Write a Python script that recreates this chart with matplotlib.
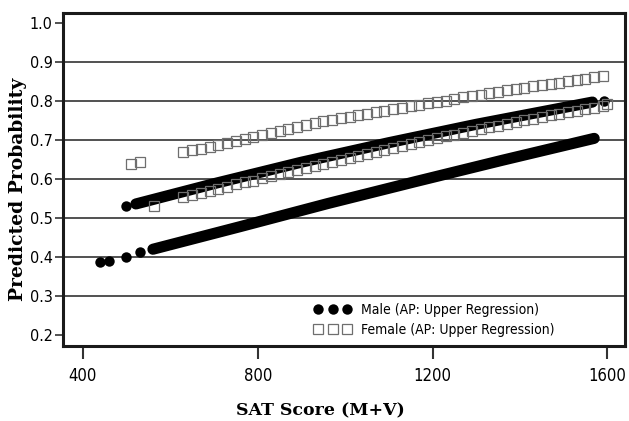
import matplotlib
matplotlib.use("Agg")
import matplotlib.pyplot as plt
from matplotlib import font_manager

# ---------------------------------------------------------------
# data
# ---------------------------------------------------------------
male_lower_dots_x = [439, 460, 498, 530]
male_lower_dots_y = [0.387, 0.390, 0.400, 0.412]
male_lower_x = [560, 760, 960, 1160, 1360, 1570]
male_lower_y = [0.420, 0.478, 0.537, 0.593, 0.648, 0.704]

male_upper_dots_x = [498, 1593]
male_upper_dots_y = [0.531, 0.800]
male_upper_x = [521, 700, 900, 1100, 1300, 1566]
male_upper_y = [0.536, 0.588, 0.643, 0.693, 0.740, 0.797]

female_x = [630, 650, 670, 690, 710, 730, 750, 770, 790, 810, 830, 850, 870, 890,
            910, 930, 950, 970, 990, 1010, 1030, 1050, 1070, 1090, 1110, 1130, 1150,
            1170, 1190, 1210, 1230, 1250, 1270, 1290, 1310, 1330, 1350, 1370, 1390,
            1410, 1430, 1450, 1470, 1490, 1510, 1530, 1550, 1570, 1590]
female_upper_y = [.668, .673, .678, .683, .688, .693, .698, .703, .708, .713, .718,
                  .723, .728, .733, .738, .743, .748, .752, .756, .759, .763, .767,
                  .771, .775, .779, .782, .786, .790, .794, .798, .801, .805, .809,
                  .813, .816, .820, .823, .827, .830, .833, .837, .840, .844, .847,
                  .850, .854, .857, .861, .864]
female_lower_y = [.553, .558, .564, .569, .575, .580, .586, .591, .596, .602, .607,
                  .612, .618, .623, .628, .634, .639, .644, .649, .654, .659, .664,
                  .669, .674, .679, .684, .689, .694, .699, .704, .709, .713, .718,
                  .723, .727, .732, .736, .741, .745, .750, .754, .758, .763, .767,
                  .771, .775, .779, .783, .786]
female_extra_x = [511, 530, 562, 1600]
female_extra_y = [0.638, 0.643, 0.531, 0.793]

x_ticks = [400, 800, 1200, 1600]
y_ticks = [0.2, 0.3, 0.4, 0.5, 0.6, 0.7, 0.8, 0.9, 1.0]

male_label = "Male (AP: Upper Regression)"
female_label = "Female (AP: Upper Regression)"

# ---------------------------------------------------------------
# fonts - condensed sans for ticks/legend, bold serif for axis titles
# ---------------------------------------------------------------
names = {f.name for f in font_manager.fontManager.ttflist}
narrow = "Liberation Sans Narrow" if "Liberation Sans Narrow" in names else "DejaVu Sans"

# ---------------------------------------------------------------
# plot
# ---------------------------------------------------------------
fig = plt.figure(figsize=(6.29, 4.21), dpi=100)
ax = fig.add_axes([0.100, 0.178, 0.894, 0.791])

for yv in y_ticks[1:-1]:
    ax.axhline(yv, color="#333333", lw=1.2, zorder=1)

blk = dict(color="black", lw=8, solid_capstyle="round", zorder=3)
ax.plot(male_lower_x, male_lower_y, **blk)
ax.plot(male_upper_x, male_upper_y, **blk)
dots = dict(ls="none", marker="o", ms=7.5, mew=0, color="black", zorder=3)
ax.plot(male_lower_dots_x, male_lower_dots_y, **dots)
ax.plot(male_upper_dots_x, male_upper_dots_y, **dots)

sq = dict(ls="none", marker="s", ms=6.8, mfc="none", mec="#6e6e6e", mew=0.9, zorder=4)
ax.plot(female_x, female_upper_y, **sq)
ax.plot(female_x, female_lower_y, **sq)
ax.plot(female_extra_x, female_extra_y, **sq)

# legend handles
h_m, = ax.plot([], [], ls="none", marker="o", ms=7.5, mew=0, color="black")
h_f, = ax.plot([], [], ls="none", marker="s", ms=7.5, mfc="white", mec="#6e6e6e", mew=0.9)
leg = ax.legend([h_m, h_f], [male_label, female_label], loc="lower left",
                bbox_to_anchor=(0.424, -0.01), numpoints=3, frameon=False,
                handlelength=2.7, handletextpad=0.7, labelspacing=0.45,
                prop=dict(family=narrow, size=10, stretch="condensed"))

ax.set_xlim(354, 1641)
ax.set_ylim(0.172, 1.025)
ax.set_xticks(x_ticks)
ax.set_yticks(y_ticks)
ax.set_xticklabels([str(v) for v in x_ticks], family=narrow, size=12, stretch="condensed")
ax.set_yticklabels([f"{v:.1f}" for v in y_ticks], family=narrow, size=11.5, stretch="condensed")
ax.tick_params(axis="x", length=9, width=1.5, pad=6, color="#333333")
ax.tick_params(axis="y", length=6, width=1.2, pad=1.5, color="#333333")

for s in ax.spines.values():
    s.set_linewidth(2.2)
    s.set_color("#1a1a1a")

ax.set_xlabel("SAT Score (M+V)", family="DejaVu Serif", weight="bold", size=12.5)
ax.xaxis.set_label_coords(0.457, -0.168)
ax.set_ylabel("Predicted Probability", family="DejaVu Serif", weight="bold", size=13.5)
ax.yaxis.set_label_coords(-0.064, 0.471)

fig.savefig("out.png", dpi=100)
